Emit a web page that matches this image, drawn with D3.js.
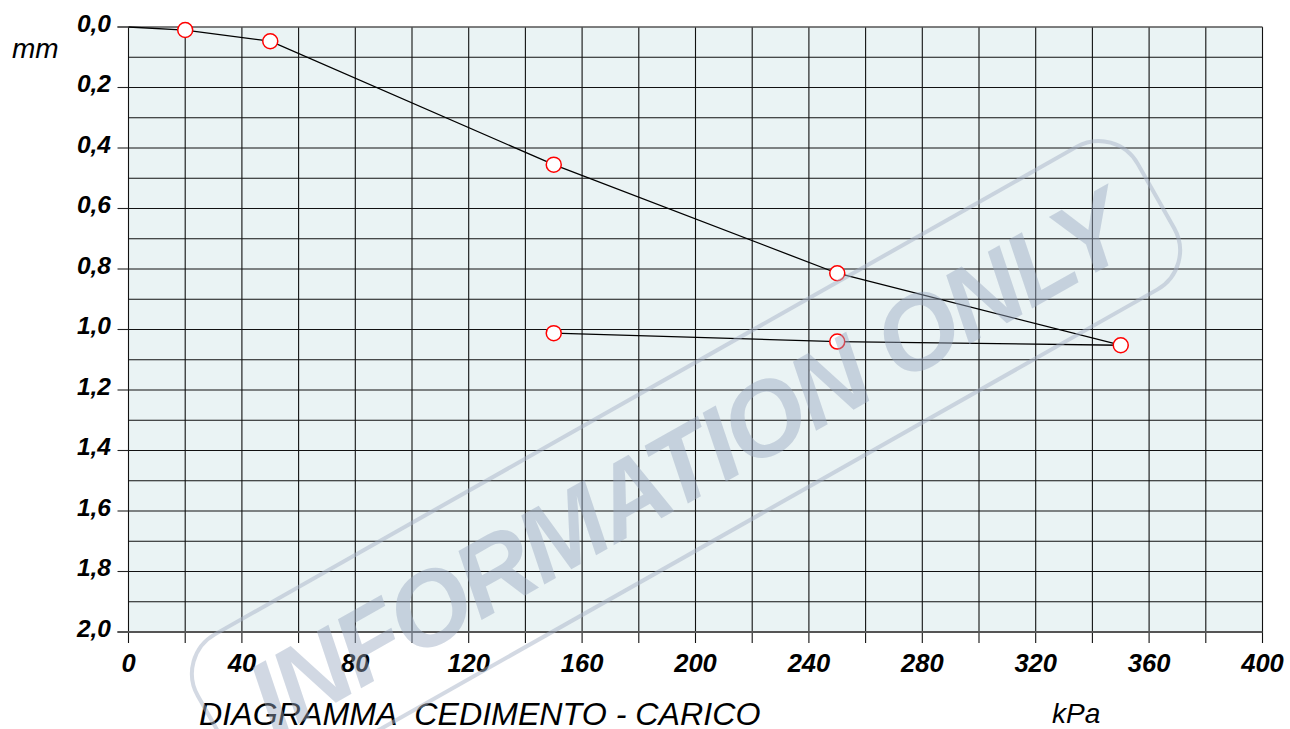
<!DOCTYPE html>
<html><head><meta charset="utf-8">
<script src="https://cdn.jsdelivr.net/npm/d3@7"></script>
<style>body{margin:0;background:#fff}svg{display:block}</style>
</head><body>
<svg id="c" width="1290" height="729"></svg>
<script>
const loadKPa = [0, 20, 50, 150, 250, 350, 250, 150];
const settleMm = [0, 0.01, 0.047, 0.455, 0.814, 1.052, 1.04, 1.012];
const markerShown = [false, true, true, true, true, true, true, true];
const xTicks = [0,40,80,120,160,200,240,280,320,360,400];
const yTicks = [0,0.2,0.4,0.6,0.8,1.0,1.2,1.4,1.6,1.8,2.0];

const svg = d3.select('#c');
const L=128.5, R=1262.5, T=27, B=632;
const x = d3.scaleLinear().domain([0,400]).range([L,R]);
const y = d3.scaleLinear().domain([0,2]).range([T,B]);
const fmt = v => d3.format('.1f')(v).replace('.', ',');
const FONT = 'Liberation Sans, Arial, sans-serif';

svg.append('rect').attr('x',L).attr('y',T).attr('width',R-L).attr('height',B-T).attr('fill','#eaf3f4');

// vertical grid every 20 (with ticks below)
const gx = d3.range(0, 401, 20);
svg.append('g').selectAll('line').data(gx).join('line')
  .attr('x1',d=>x(d)).attr('x2',d=>x(d)).attr('y1',T).attr('y2',B+11)
  .attr('stroke','#111').attr('stroke-width',1.1);
// horizontal grid
const gy = d3.range(0.1, 2.0, 0.1);
svg.append('g').selectAll('line').data(gy).join('line')
  .attr('x1',L).attr('x2',R).attr('y1',d=>y(d)).attr('y2',d=>y(d))
  .attr('stroke','#111').attr('stroke-width',1.1);
// y ticks extend left
svg.append('g').selectAll('line').data(yTicks).join('line')
  .attr('x1',L-11).attr('x2',L).attr('y1',d=>y(d)).attr('y2',d=>y(d))
  .attr('stroke','#222').attr('stroke-width',1.1);
// borders
svg.append('line').attr('x1',L-11).attr('x2',R).attr('y1',T).attr('y2',T).attr('stroke','#555').attr('stroke-width',1.6);
svg.append('line').attr('x1',L-11).attr('x2',R).attr('y1',B).attr('y2',B).attr('stroke','#555').attr('stroke-width',2);

// labels
svg.append('g').selectAll('text').data(yTicks).join('text')
  .attr('x',111).attr('y',d=>y(d)+4.5).attr('text-anchor','end')
  .attr('font-family',FONT).attr('font-weight','bold').attr('font-style','italic')
  .attr('font-size',24.5).attr('fill','#000').text(fmt);
svg.append('g').selectAll('text').data(xTicks).join('text')
  .attr('x',d=>x(d)).attr('y',672).attr('text-anchor','middle')
  .attr('font-family',FONT).attr('font-weight','bold').attr('font-style','italic')
  .attr('font-size',25.5).attr('fill','#000').text(d=>d);

svg.append('text').attr('x',12).attr('y',58).attr('font-family',FONT)
  .attr('font-style','italic').attr('font-size',28).text('mm');
svg.append('text').attr('x',1052).attr('y',723).attr('font-family',FONT)
  .attr('font-style','italic').attr('font-size',28).text('kPa');
svg.append('text').attr('x',199).attr('y',725).attr('font-family',FONT)
  .attr('font-style','italic').attr('font-size',32.2).style('white-space','pre')
  .text('DIAGRAMMA  CEDIMENTO - CARICO');

// line
const pts = loadKPa.map((v,i)=>[v, settleMm[i], markerShown[i]]);
svg.append('path').datum(pts)
  .attr('d', d3.line().x(d=>x(d[0])).y(d=>y(d[1])))
  .attr('fill','none').attr('stroke','#000').attr('stroke-width',1.3);
svg.append('g').selectAll('circle').data(pts.filter(d=>d[2])).join('circle')
  .attr('cx',d=>x(d[0])).attr('cy',d=>y(d[1])).attr('r',7.5)
  .attr('fill','#fff').attr('stroke','#f00').attr('stroke-width',1.5);

// watermark
const wm = svg.append('g').attr('transform','translate(686,462) rotate(-29.5)');
wm.append('rect').attr('x',-540).attr('y',-82).attr('width',1080).attr('height',164).attr('rx',45)
  .attr('fill','none').attr('stroke','#a8b4c8').attr('stroke-opacity',0.5).attr('stroke-width',4);
wm.append('text').attr('x',0).attr('y',37).attr('text-anchor','middle')
  .attr('font-family',FONT).attr('font-weight','bold').attr('font-style','italic')
  .attr('font-size',104).attr('letter-spacing',-3).attr('fill','#9aa9c0').attr('fill-opacity',0.45).text('INFORMATION ONLY');
</script>
</body></html>
